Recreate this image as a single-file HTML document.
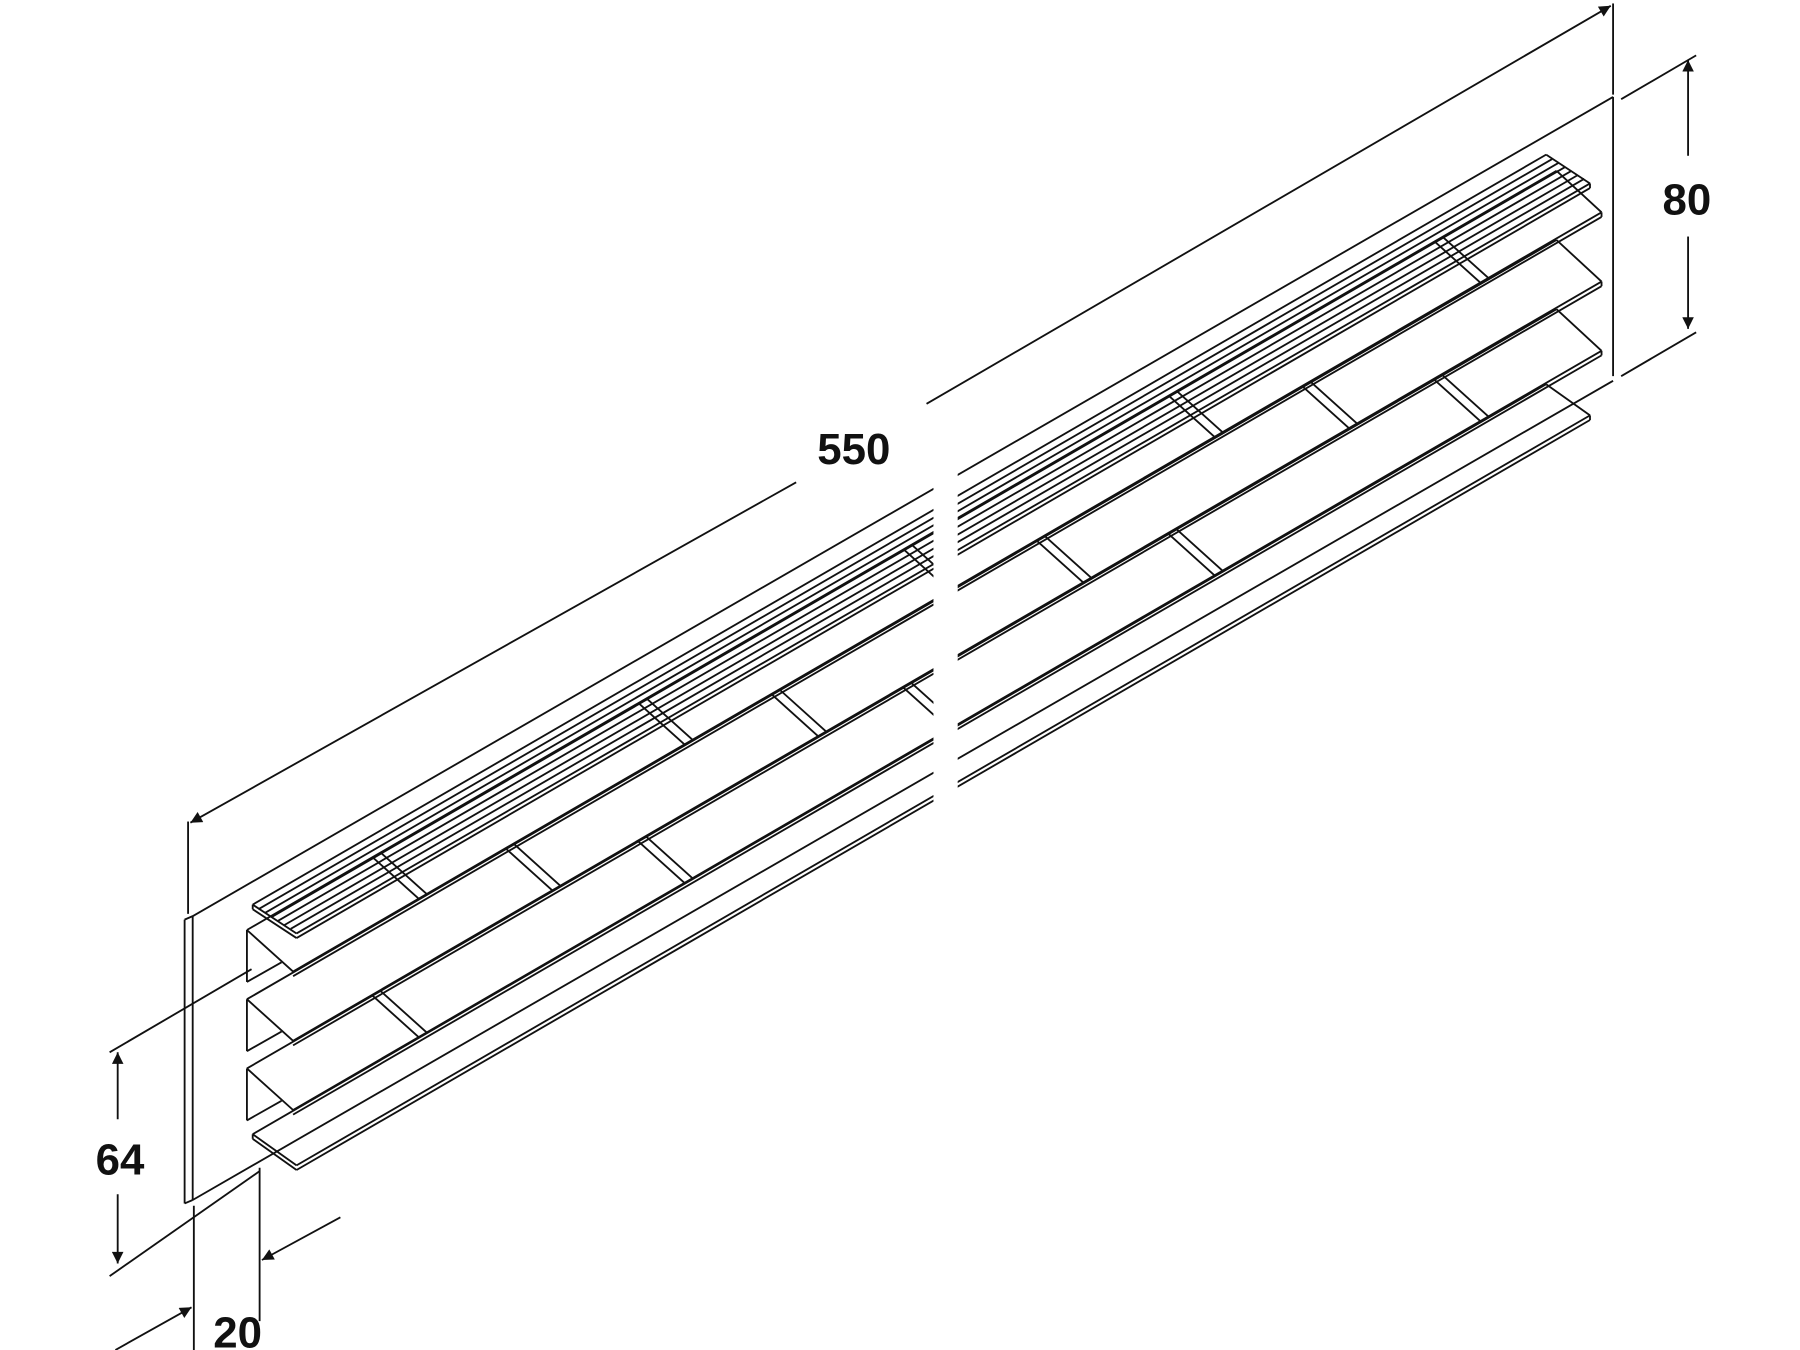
<!DOCTYPE html>
<html><head><meta charset="utf-8"><style>
html,body{margin:0;padding:0;background:#fff}
svg{display:block}
text{font-family:"Liberation Sans",Arial,sans-serif;font-weight:bold;font-size:38px;fill:#111}
</style></head><body>
<svg width="1800" height="1350" viewBox="0 0 1560 1170" preserveAspectRatio="none" xmlns="http://www.w3.org/2000/svg">
<defs><marker id="a" viewBox="0 0 10 10" refX="10" refY="5" markerWidth="14" markerHeight="10" markerUnits="userSpaceOnUse" orient="auto"><path d="M0,0 L10,5 L0,10 z" fill="#111"/></marker></defs>
<g stroke="#111" stroke-width="1.6" fill="none">
<!-- plate -->
<line x1="160" y1="797" x2="160" y2="1043"/><line x1="167" y1="794" x2="167" y2="1040"/>
<line x1="160" y1="797" x2="167" y2="794"/><line x1="160" y1="1043" x2="167" y2="1040"/>
<line x1="167" y1="794" x2="1398" y2="84"/><line x1="167" y1="1040" x2="1398" y2="330"/>
<line x1="1398" y1="84" x2="1398" y2="326"/>
<!-- ribbed top -->
<line x1="219" y1="784" x2="1340" y2="134"/>
<line x1="224" y1="788" x2="1345" y2="138"/>
<line x1="230" y1="791" x2="1351" y2="141"/>
<line x1="235" y1="795" x2="1356" y2="145"/>
<line x1="241" y1="798" x2="1362" y2="148"/>
<line x1="246" y1="802" x2="1367" y2="152"/>
<line x1="252" y1="805" x2="1373" y2="155"/>
<line x1="257" y1="809" x2="1378" y2="159"/>
<line x1="257" y1="813" x2="1378" y2="163"/>
<line x1="219" y1="784" x2="257" y2="809"/><line x1="219" y1="784" x2="219" y2="788"/><line x1="219" y1="788" x2="257" y2="813"/>
<line x1="1340" y1="134" x2="1378" y2="159"/><line x1="1378" y1="159" x2="1378" y2="163"/>
<!-- row A -->
<line x1="214" y1="806" x2="1349" y2="148"/>
<line x1="254" y1="842" x2="1388" y2="184"/><line x1="254" y1="846" x2="1388" y2="188"/>
<line x1="214" y1="806" x2="254" y2="842"/><line x1="1349" y1="148" x2="1388" y2="184"/><line x1="1388" y1="184" x2="1388" y2="188"/>
<line x1="214" y1="806" x2="214" y2="851"/><line x1="214" y1="851" x2="244" y2="834"/>
<!-- row B -->
<line x1="214" y1="866" x2="1349" y2="208"/>
<line x1="254" y1="902" x2="1388" y2="244"/><line x1="254" y1="906" x2="1388" y2="248"/>
<line x1="214" y1="866" x2="254" y2="902"/><line x1="1349" y1="208" x2="1388" y2="244"/><line x1="1388" y1="244" x2="1388" y2="248"/>
<line x1="214" y1="866" x2="214" y2="911"/><line x1="214" y1="911" x2="244" y2="894"/>
<!-- row C -->
<line x1="214" y1="926" x2="1349" y2="268"/>
<line x1="254" y1="962" x2="1388" y2="304"/><line x1="254" y1="966" x2="1388" y2="308"/>
<line x1="214" y1="926" x2="254" y2="962"/><line x1="1349" y1="268" x2="1388" y2="304"/><line x1="1388" y1="304" x2="1388" y2="308"/>
<line x1="214" y1="926" x2="214" y2="971"/><line x1="214" y1="971" x2="244" y2="954"/>
<!-- joints A -->
<line x1="323" y1="743" x2="363" y2="779"/><line x1="330" y1="739" x2="370" y2="775"/>
<line x1="553" y1="609" x2="593" y2="645"/><line x1="560" y1="605" x2="600" y2="641"/>
<line x1="783" y1="476" x2="823" y2="512"/><line x1="790" y1="472" x2="830" y2="508"/>
<line x1="1013" y1="343" x2="1053" y2="379"/><line x1="1020" y1="339" x2="1060" y2="375"/>
<line x1="1243" y1="209" x2="1283" y2="245"/><line x1="1250" y1="205" x2="1290" y2="241"/>
<!-- joints B -->
<line x1="439" y1="736" x2="479" y2="772"/><line x1="446" y1="732" x2="486" y2="768"/>
<line x1="669" y1="602" x2="709" y2="638"/><line x1="676" y1="598" x2="716" y2="634"/>
<line x1="899" y1="469" x2="939" y2="505"/><line x1="906" y1="465" x2="946" y2="501"/>
<line x1="1129" y1="335" x2="1169" y2="371"/><line x1="1136" y1="331" x2="1176" y2="367"/>
<!-- joints C -->
<line x1="323" y1="863" x2="363" y2="899"/><line x1="330" y1="859" x2="370" y2="895"/>
<line x1="553" y1="729" x2="593" y2="765"/><line x1="560" y1="725" x2="600" y2="761"/>
<line x1="783" y1="596" x2="823" y2="632"/><line x1="790" y1="592" x2="830" y2="628"/>
<line x1="1013" y1="463" x2="1053" y2="499"/><line x1="1020" y1="459" x2="1060" y2="495"/>
<line x1="1243" y1="329" x2="1283" y2="365"/><line x1="1250" y1="325" x2="1290" y2="361"/>
<!-- bottom strip -->
<line x1="219" y1="983" x2="1340" y2="333"/>
<line x1="257" y1="1010" x2="1378" y2="360"/><line x1="257" y1="1014" x2="1378" y2="364"/>
<line x1="219" y1="983" x2="257" y2="1010"/><line x1="219" y1="983" x2="219" y2="987"/><line x1="219" y1="987" x2="257" y2="1014"/>
<line x1="1340" y1="333" x2="1378" y2="360"/><line x1="1378" y1="360" x2="1378" y2="364"/>
</g>
<rect x="809" y="280" width="21" height="480" fill="#fff"/>
<g stroke="#111" stroke-width="1.6" fill="none">
<line x1="163" y1="712" x2="163" y2="792"/><line x1="1398" y1="3" x2="1398" y2="82"/>
<line x1="690" y1="418" x2="165" y2="713" marker-end="url(#a)"/>
<line x1="803" y1="350" x2="1396" y2="5" marker-end="url(#a)"/>
<line x1="1405" y1="86" x2="1470" y2="48"/><line x1="1405" y1="326" x2="1470" y2="288"/>
<line x1="1463" y1="135" x2="1463" y2="52" marker-end="url(#a)"/>
<line x1="1463" y1="205" x2="1463" y2="285" marker-end="url(#a)"/>
<line x1="95" y1="912" x2="218" y2="840"/><line x1="95" y1="1106" x2="225" y2="1015"/>
<line x1="102" y1="970" x2="102" y2="912" marker-end="url(#a)"/>
<line x1="102" y1="1035" x2="102" y2="1095" marker-end="url(#a)"/>
<line x1="168" y1="1045" x2="168" y2="1170"/><line x1="225" y1="1012" x2="225" y2="1145"/>
<line x1="100" y1="1170" x2="166" y2="1133" marker-end="url(#a)"/>
<line x1="295" y1="1055" x2="227" y2="1092" marker-end="url(#a)"/>
</g>
<text x="740" y="402" text-anchor="middle">550</text>
<text x="1462" y="186" text-anchor="middle">80</text>
<text x="104" y="1018" text-anchor="middle">64</text>
<text x="206" y="1168" text-anchor="middle">20</text>
</svg>
</body></html>
